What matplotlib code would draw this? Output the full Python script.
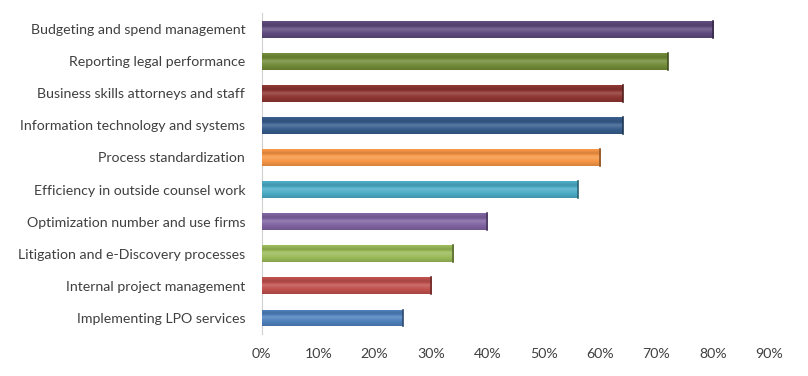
import numpy as np
import matplotlib.pyplot as plt
from matplotlib.colors import to_rgb
from matplotlib.ticker import PercentFormatter

categories = [
    "Budgeting and spend management",
    "Reporting legal performance",
    "Business skills attorneys and staff",
    "Information technology and systems",
    "Process standardization",
    "Efficiency in outside counsel work",
    "Optimization number and use firms",
    "Litigation and e-Discovery processes",
    "Internal project management",
    "Implementing LPO services",
]
values = [80, 72, 64, 64, 60, 56, 40, 34, 30, 25]
colors = ["#5f4a7e", "#728c38", "#8e3532", "#375d8d", "#f79646",
          "#4bacc6", "#8064a2", "#9bbb59", "#c0504d", "#4f81bd"]

plt.rcParams['font.family'] = ['Lato', 'DejaVu Sans']

fig = plt.figure(figsize=(8.08, 3.76), dpi=100)
ax = fig.add_axes([0.324, 0.112, 0.628, 0.853])

y = np.arange(len(categories))
bars = ax.barh(y, values, height=0.52, color=colors, edgecolor='none', zorder=2)

# glossy vertical gradient on each bar
t = np.linspace(0, 1, 64)
for bar, c in zip(bars, colors):
    base = np.array(to_rgb(c))
    light = base + (1 - base) * 0.35
    dark = base * 0.72
    prof = np.where(t < 0.25, 0.55 - t * 1.2, np.where(t < 0.45, 0.25 + (t - 0.25) * 2.5, 0.75 - (t - 0.45) * 0.9))
    rows = []
    for p in prof:
        if p >= 0.5:
            rows.append(base + (light - base) * (p - 0.5) * 2)
        else:
            rows.append(dark + (base - dark) * p * 2)
    grad = np.array(rows)[:, None, :]
    x0, y0 = bar.get_x(), bar.get_y()
    w, h = bar.get_width(), bar.get_height()
    im = ax.imshow(grad, extent=[x0, x0 + w, y0 + h, y0], aspect='auto',
                   interpolation='bilinear', zorder=3)
    im.set_clip_path(bar)
    ax.plot([x0 + w, x0 + w], [y0, y0 + h], color=tuple(dark * 0.8), lw=1.2, zorder=4)

ax.set_xlim(0, 90)
ax.set_ylim(len(categories) - 0.5, -0.5)
ax.set_xticks(np.arange(0, 91, 10))
ax.xaxis.set_major_formatter(PercentFormatter(decimals=0))
ax.set_yticks(y)
ax.set_yticklabels(categories)
ax.tick_params(axis='both', length=0, labelsize=10.2, colors='#404040')
ax.tick_params(axis='x', pad=10)
ax.tick_params(axis='y', pad=12)
for s in ['top', 'right', 'bottom']:
    ax.spines[s].set_visible(False)
ax.spines['left'].set_color('#d0d0d0')

fig.savefig('out.png', dpi=100)
